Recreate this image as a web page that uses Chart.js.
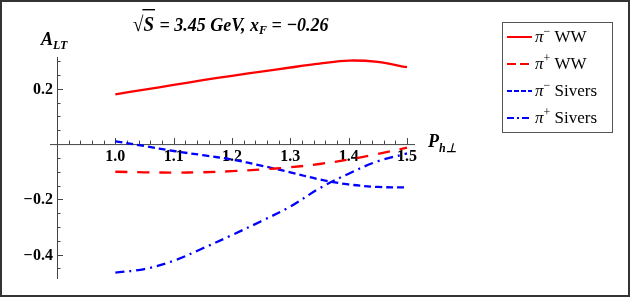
<!DOCTYPE html>
<html>
<head>
<meta charset="utf-8">
<script src="https://cdn.jsdelivr.net/npm/chart.js@4.4.1/dist/chart.umd.min.js"></script>
<style>
  html, body { margin: 0; padding: 0; background: #fff; }
  canvas { display: block; }
</style>
</head>
<body>
<canvas id="grafico" width="632" height="299"></canvas>
<script>
// P_h⊥ values and the four A_LT curves
const pT = [1.0, 1.05, 1.1, 1.15, 1.2, 1.25, 1.3, 1.35, 1.4, 1.45, 1.5];
const piMinusWW = [0.180, 0.197, 0.214, 0.231, 0.247, 0.262, 0.277, 0.291, 0.302, 0.297, 0.278];
const piPlusWW = [-0.100, -0.102, -0.103, -0.102, -0.098, -0.092, -0.084, -0.072, -0.056, -0.036, -0.013];
const piMinusSivers = [0.010, -0.007, -0.025, -0.040, -0.056, -0.078, -0.102, -0.128, -0.146, -0.155, -0.157];
const piPlusSivers = [-0.465, -0.452, -0.422, -0.377, -0.329, -0.279, -0.226, -0.160, -0.107, -0.062, -0.034];

const xTicks = [1.0, 1.1, 1.2, 1.3, 1.4, 1.5];
const yTicks = [0.2, -0.2, -0.4];
const labels = ["WW", "WW", "Sivers", "Sivers"];
const charges = ["\u2212", "+", "\u2212", "+"];

const serif = "'Liberation Serif', 'Times New Roman', serif";

function pts(ys) {
  return pT.map((x, i) => ({ x: x, y: ys[i] }));
}

// draws text pieces one after another, returns end x
function runs(ctx, x, y, parts) {
  for (const p of parts) {
    ctx.font = p.font;
    ctx.fillText(p.t, x, y + (p.dy || 0));
    x += ctx.measureText(p.t).width;
  }
  return x;
}

// same, but stretched vertically around the baseline
function tallRuns(ctx, x, y, parts, sy) {
  ctx.save();
  ctx.translate(0, y);
  ctx.scale(1, sy);
  const end = runs(ctx, x, 0, parts);
  ctx.restore();
  return end;
}

const eixos = {
  id: "eixos",
  beforeDatasetsDraw(chart) {
    const ctx = chart.ctx;
    const xs = chart.scales.x, ys = chart.scales.y;
    const x0 = xs.getPixelForValue(0.9);
    const y0 = ys.getPixelForValue(0);
    ctx.save();
    ctx.strokeStyle = "#444";
    ctx.lineWidth = 1;
    ctx.beginPath();
    ctx.moveTo(x0 - 7, y0 + 0.5);
    ctx.lineTo(xs.right, y0 + 0.5);
    ctx.moveTo(x0 + 0.5, ys.top);
    ctx.lineTo(x0 + 0.5, ys.bottom);
    // x ticks, every 0.02, pointing up
    for (let k = 1; k <= 30; k++) {
      const v = 0.9 + k * 0.02;
      const px = Math.round(xs.getPixelForValue(v)) + 0.5;
      const major = Math.abs((v * 10) - Math.round(v * 10)) < 1e-6;
      ctx.moveTo(px, y0);
      ctx.lineTo(px, y0 - (major ? 6 : 3.5));
    }
    // y ticks, every 0.05, pointing right
    for (let k = -9; k <= 6; k++) {
      if (k === 0) continue;
      const v = k * 0.05;
      const py = Math.round(ys.getPixelForValue(v)) + 0.5;
      const major = k % 4 === 0;
      ctx.moveTo(x0, py);
      ctx.lineTo(x0 + (major ? 6 : 3.5), py);
    }
    ctx.stroke();

    ctx.fillStyle = "#000";
    ctx.font = "bold 16px " + serif;
    ctx.textBaseline = "alphabetic";
    ctx.textAlign = "center";
    for (const v of xTicks) {
      ctx.fillText(v.toFixed(1), xs.getPixelForValue(v), y0 + 17);
    }
    ctx.textAlign = "right";
    for (const v of yTicks) {
      const s = Math.abs(v).toFixed(1);
      const py = ys.getPixelForValue(v) + 5;
      ctx.fillText(s, x0 - 4, py);
      if (v < 0) {
        const w = ctx.measureText(s).width;
        ctx.fillText("\u2212", x0 - 4.5 - w, py);
      }
    }
    ctx.textAlign = "left";
    // axis labels
    runs(ctx, 41, 45, [
      { t: "A", font: "bold italic 18px " + serif },
      { t: "LT", font: "bold italic 12px " + serif, dy: 4 }
    ]);
    runs(ctx, 428, 147, [
      { t: "P", font: "bold italic 18px " + serif },
      { t: "h\u22A5", font: "bold italic 12px " + serif, dy: 5 }
    ]);
    ctx.restore();
  },
  afterDraw(chart) {
    const ctx = chart.ctx;
    ctx.save();
    ctx.fillStyle = "#000";
    ctx.textAlign = "left";
    ctx.textBaseline = "alphabetic";
    // title
    const f = "bold italic 18px " + serif;
    let x = tallRuns(ctx, 133, 31, [{ t: "\u221A", font: "bold 19px " + serif }], 1.1);
    const sx = x;
    x = tallRuns(ctx, x, 31, [{ t: "S", font: "bold italic 19px " + serif }], 1.1);
    ctx.fillRect(sx - 1, 9, x - sx + 2, 1.4);
    tallRuns(ctx, x + 1, 31, [
      { t: " = 3.45 GeV, x", font: f },
      { t: "F", font: "bold italic 12px " + serif, dy: 3 },
      { t: " = \u22120.26", font: f }
    ], 1.1);

    // legend
    ctx.strokeStyle = "#555";
    ctx.lineWidth = 1;
    ctx.strokeRect(502.5, 22.5, 110, 110);
    const sample = [[], [9, 4], [5, 2], [7, 3, 2, 3]];
    chart.data.datasets.forEach((ds, i) => {
      const y = 37 + i * 27;
      ctx.save();
      ctx.strokeStyle = ds.borderColor;
      ctx.lineWidth = 2;
      ctx.setLineDash(sample[i]);
      ctx.beginPath();
      ctx.moveTo(507, y);
      ctx.lineTo(532, y);
      ctx.stroke();
      ctx.restore();
      runs(ctx, 535, y + 5, [
        { t: "\u03C0", font: "italic 17px " + serif },
        { t: charges[i], font: "12px " + serif, dy: -7 },
        { t: " " + labels[i], font: "17px " + serif }
      ]);
    });

    // outer frame
    ctx.strokeStyle = "#333";
    ctx.lineWidth = 2;
    ctx.strokeRect(1, 1, 628, 295);
    ctx.restore();
  }
};

const ctx = document.getElementById("grafico");

new Chart(ctx, {
  type: "line",
  data: {
    datasets: [
      { label: "\u03C0\u2212 WW", data: pts(piMinusWW), borderColor: "#ff0000", borderWidth: 2.3 },
      { label: "\u03C0+ WW", data: pts(piPlusWW), borderColor: "#ff0000", borderWidth: 2.3, borderDash: [12, 10] },
      { label: "\u03C0\u2212 Sivers", data: pts(piMinusSivers), borderColor: "#0000ff", borderWidth: 2.3, borderDash: [7, 4] },
      { label: "\u03C0+ Sivers", data: pts(piPlusSivers), borderColor: "#0000ff", borderWidth: 2.3, borderDash: [9, 5, 2, 5] }
    ]
  },
  options: {
    responsive: false,
    animation: false,
    devicePixelRatio: 1,
    layout: { padding: { left: 57, right: 217, top: 57, bottom: 20 } },
    elements: { point: { radius: 0 }, line: { tension: 0.35, fill: false } },
    scales: {
      x: { type: "linear", min: 0.9, max: 1.5137, display: false },
      y: { type: "linear", min: -0.488, max: 0.315, display: false }
    },
    plugins: { legend: { display: false }, tooltip: { enabled: false } }
  },
  plugins: [eixos]
});
</script>
</body>
</html>
